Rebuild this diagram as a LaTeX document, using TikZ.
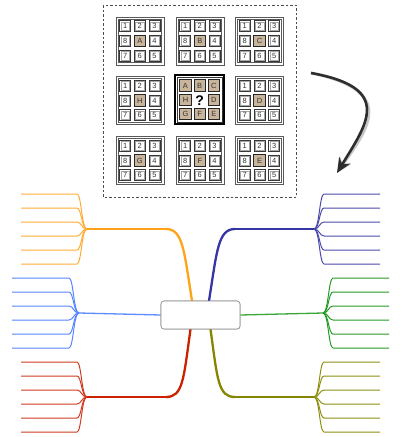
\documentclass[tikz,border=0pt]{standalone}
\usepackage{fontspec}
\setsansfont{Liberation Sans}
\usetikzlibrary{arrows.meta,calc}
\definecolor{tanc}{HTML}{C9B59B}
\definecolor{cOrange}{HTML}{FFA319}
\definecolor{cOrangeL}{HTML}{FFAA33}
\definecolor{cDBlue}{HTML}{3535A6}
\definecolor{cDBlueL}{HTML}{4A4AAA}
\definecolor{cBlue}{HTML}{5C8AFF}
\definecolor{cBlueL}{HTML}{5585FF}
\definecolor{cGreen}{HTML}{3AA63A}
\definecolor{cGreenL}{HTML}{259A25}
\definecolor{cRed}{HTML}{CC2200}
\definecolor{cRedL}{HTML}{D03A20}
\definecolor{cOlive}{HTML}{858500}
\definecolor{cOliveL}{HTML}{8E8E10}
\tikzset{
  frameline/.style={draw=black!65, line width=0.6pt},
  cellout/.style={draw=black!78, line width=0.65pt, fill=white},
  cellin/.style={draw=black!35, line width=0.4pt},
  celltext/.style={inner sep=0pt, font=\sffamily\fontsize{7.5}{7.5}\selectfont, text=black!80},
  lettercell/.style={draw=black!85, line width=0.9pt, fill=tanc},
  mainline/.style={line width=2.3pt, line cap=round},
  hline/.style={line width=1.3pt},
  subline/.style={line width=1pt},
  ctrbox/.style={draw=black!45, line width=0.6pt, rounded corners=3pt, fill=white, minimum width=79pt, minimum height=28pt}
}
\newcommand\ngrid[4]{%
\begin{scope}[shift={(#2,#3)}]
\draw[frameline] (-24,-24) rectangle (24,24);
\draw[frameline] (-21.8,-21.8) rectangle (21.8,21.8);
\foreach \dx/\dy/\t in {-1/-1/1,0/-1/2,1/-1/3,1/0/4,1/1/5,0/1/6,-1/1/7,-1/0/8}{
  \draw[cellout] (\dx*14.7-5.6,\dy*14.7-5.6) rectangle (\dx*14.7+5.6,\dy*14.7+5.6);
  \draw[cellin] (\dx*14.7-4.3,\dy*14.7-4.3) rectangle (\dx*14.7+4.3,\dy*14.7+4.3);
  \node[celltext] (#1-\t) at (\dx*14.7,\dy*14.7) {\t};
}
\draw[lettercell] (-5.6,-5.6) rectangle (5.6,5.6);
\node[celltext] (#1-c) at (0,0.3) {#4};
\end{scope}}
\newcommand\subbranches[7]{% #1 name, #2 fork x, #3 fork y, #4 end x, #5 dir (-1 left, 1 right), #6 colour, #7 first y
\coordinate (#1) at (#2,#3);
\foreach \k in {0,...,5}{
  \pgfmathsetmacro\yy{#7+14*\k}
  \coordinate (#1-c\k) at (#2+#5*10,\yy);
  \coordinate (#1-e\k) at (#4,\yy);
  \draw[subline, draw=#6] (#1) .. controls +(#5*5.5,0) and +(-#5*4.5,0) .. (#1-c\k) -- (#1-e\k);
}}
\begin{document}
\begin{tikzpicture}[x=1pt,y=-1pt]
\useasboundingbox (0,0) rectangle (400,437);
% dashed frame
\draw[black!70, line width=0.8pt, dash pattern=on 2.5pt off 2pt] (103,5) rectangle (296,197);
% grids
\ngrid{gA}{139.8}{40.8}{A}
\ngrid{gB}{199.8}{40.8}{B}
\ngrid{gC}{259.5}{40.8}{C}
\ngrid{gH}{139.8}{100.5}{H}
\ngrid{gD}{259.5}{100.5}{D}
\ngrid{gG}{139.8}{160.5}{G}
\ngrid{gF}{199.8}{160.5}{F}
\ngrid{gE}{259.5}{160.5}{E}
% centre grid
\begin{scope}[shift={(199.7,99.7)}]
\draw[black, line width=1.5pt] (-24.5,-24.5) rectangle (24.5,24.5);
\draw[black!80, line width=0.5pt] (-22.3,-22.3) rectangle (22.3,22.3);
\foreach \dx/\dy/\t in {-1/-1/A,0/-1/B,1/-1/C,1/0/D,1/1/E,0/1/F,-1/1/G,-1/0/H}{
  \draw[lettercell, line width=1.1pt] (\dx*14.2-5.6,\dy*14.2-5.6) rectangle (\dx*14.2+5.6,\dy*14.2+5.6);
  \node[celltext] (m-\t) at (\dx*14.2,\dy*14.2+0.3) {\t};
}
\node[inner sep=0pt, font=\sffamily\bfseries\fontsize{14}{14}\selectfont] (mq) at (0,0.5) {?};
\end{scope}
% curved arrow
\coordinate (arrS) at (311,73);
\coordinate (arrE) at (337,173);
\begin{scope}[shift={(2.5,3)}]
\draw[black!22, line width=2.8pt, -{Stealth[length=15pt,width=13pt]}] (arrS) .. controls (395,88) and (366,125) .. (arrE);
\end{scope}
\draw[black!82, line width=2.6pt, -{Stealth[length=15pt,width=13pt]}] (arrS) .. controls (395,88) and (366,125) .. (arrE);
% central box
\node[ctrbox] (ctr) at (200.5,315) {};
% sub branches
\subbranches{fO}{87}{229}{21}{-1}{cOrangeL}{194}
\subbranches{fB}{79}{313}{12}{-1}{cBlueL}{278}
\subbranches{fR}{87}{397}{21}{-1}{cRedL}{362}
\subbranches{fD}{314}{229}{380}{1}{cDBlueL}{194}
\subbranches{fG}{323}{313}{389}{1}{cGreenL}{278}
\subbranches{fL}{314}{397}{380}{1}{cOliveL}{362}
% main branches
\coordinate (kO) at (166,229);
\coordinate (kD) at (235,229);
\coordinate (kR) at (166,397);
\coordinate (kL) at (235,397);
\draw[hline, cOrange] (kO) -- (fO);
\draw[mainline, cOrange] ([xshift=-8.5pt]ctr.north) .. controls +(-8,-50) and +(17,0) .. (kO);
\draw[hline, cDBlue] (kD) -- (fD);
\draw[mainline, cDBlue] ([xshift=8.5pt]ctr.north) .. controls +(8,-50) and +(-17,0) .. (kD);
\draw[hline, cRed] (kR) -- (fR);
\draw[mainline, cRed] ([xshift=-10pt]ctr.south) .. controls +(-7,50) and +(17,0) .. (kR);
\draw[hline, cOlive] (kL) -- (fL);
\draw[mainline, cOlive] ([xshift=10pt]ctr.south) .. controls +(7,50) and +(-17,0) .. (kL);
\draw[hline, cBlue] (ctr.west) -- (fB);
\draw[hline, cGreen] (ctr.east) -- (fG);
\node[ctrbox] (ctr2) at (ctr) {};
\end{tikzpicture}
\end{document}
